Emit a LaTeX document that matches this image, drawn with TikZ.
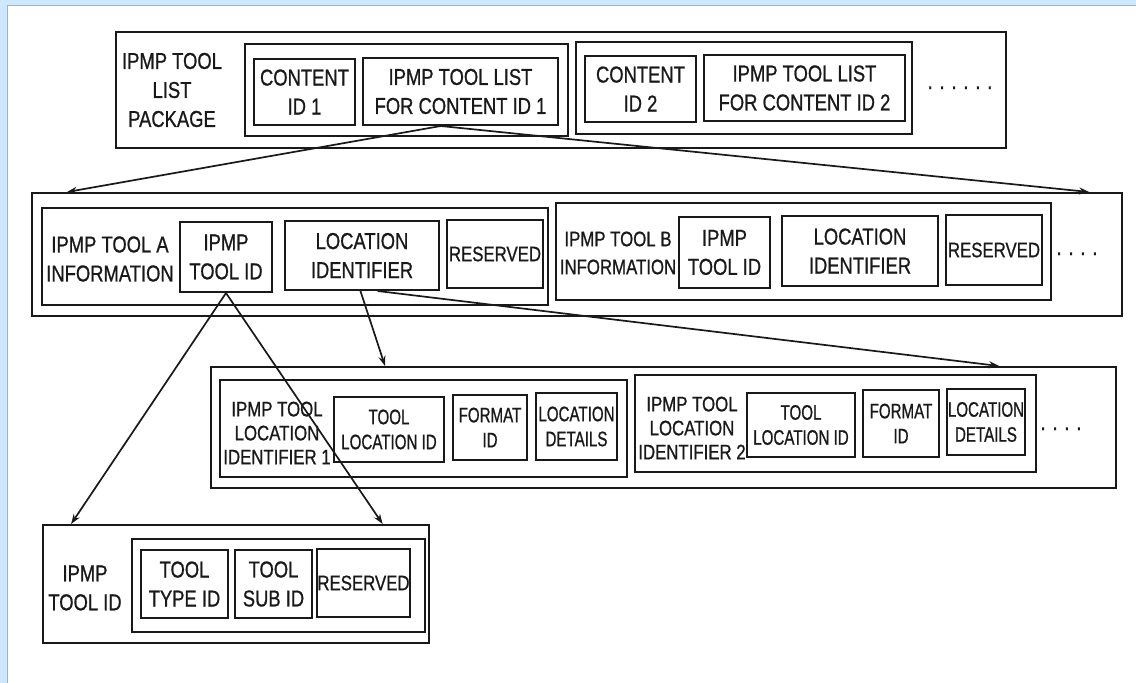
\documentclass[tikz,border=0pt]{standalone}
\usepackage{fontspec}
\usetikzlibrary{arrows.meta,calc}
\newfontfamily\cond[FakeStretch=0.8,FakeBold=0.8]{Liberation Sans}
\newfontfamily\condt[FakeStretch=0.72,FakeBold=0.8]{Liberation Sans}
\definecolor{bluebg}{RGB}{207,231,252}
\definecolor{blueln}{RGB}{150,182,212}
\definecolor{ink}{RGB}{25,25,25}
\tikzset{
  box/.style={draw=ink,line width=2pt,inner sep=0pt,align=center,text=ink,
    font={\cond\fontsize{23}{29}\selectfont}},
  lbl/.style={inner sep=0pt,align=center,text=ink,font={\cond\fontsize{23}{29}\selectfont}},
  midfont/.style={font={\cond\fontsize{21}{25}\selectfont}},
  tightfont/.style={font={\condt\fontsize{21}{25}\selectfont}},
  dots/.style={inner sep=0pt,anchor=base,text=ink,font={\cond\fontsize{23}{26}\selectfont}},
  arr/.style={draw=ink,line width=1.7pt,-{Stealth[length=10pt,width=7pt]}}
}
\newcommand\mybox[7][]{%
  \pgfmathsetmacro\bw{#5-#3}\pgfmathsetmacro\bh{#6-#4}%
  \pgfmathsetmacro\cx{(#3+#5)/2}\pgfmathsetmacro\cy{(#4+#6)/2}%
  \node[box,#1,minimum width=\bw pt,minimum height=\bh pt] (#2) at (\cx,\cy) {#7};}
\begin{document}
\begin{tikzpicture}[x=1pt,y=-1pt]
\useasboundingbox (0,0) rectangle (1136,683);
\fill[white] (0,0) rectangle (1136,683);
\fill[bluebg] (0,0) rectangle (1136,5);
\fill[bluebg] (0,0) rectangle (7,683);
\draw[blueln,line width=0.8pt] (1136,5) -- (7,5) -- (7,683);
% Row 1
\mybox{r1}{116}{32}{1006}{148}{}
\node[lbl] (lab1) at (172,90) {IPMP TOOL\\LIST\\PACKAGE};
\mybox{g1}{245}{44}{568}{136}{}
\mybox{cid1}{254}{59}{355}{125}{CONTENT\\ID 1}
\mybox{tl1}{363}{58}{558}{125}{IPMP TOOL LIST\\FOR CONTENT ID 1}
\mybox{g2}{576}{42}{912}{134}{}
\mybox{cid2}{585}{56}{696}{122}{CONTENT\\ID 2}
\mybox{tl2}{704}{55}{905}{121}{IPMP TOOL LIST\\FOR CONTENT ID 2}
\node[dots] (d1) at (960,89) {. . . . . .};
% Row 2
\mybox{r2}{32}{193}{1122}{316}{}
\mybox{gA}{42}{208}{548}{305}{}
\node[lbl] (labA) at (110,259) {IPMP TOOL A\\INFORMATION};
\mybox{idA}{180}{222}{272}{292}{IPMP\\TOOL ID}
\mybox{locA}{285}{221}{439}{290}{LOCATION\\IDENTIFIER}
\mybox[midfont]{resA}{447}{220}{543}{288}{RESERVED}
\mybox{gB}{556}{203}{1051}{300}{}
\node[lbl,font={\cond\fontsize{21}{28}\selectfont}] (labB) at (618,253) {IPMP TOOL B\\INFORMATION};
\mybox{idB}{679}{217}{770}{288}{IPMP\\TOOL ID}
\mybox{locB}{782}{216}{938}{286}{LOCATION\\IDENTIFIER}
\mybox[midfont]{resB}{946}{215}{1042}{285}{RESERVED}
\node[dots] (d2) at (1077,255) {. . . .};
% Row 3
\mybox{r3}{211}{367}{1116}{488}{}
\mybox{gL1}{220}{380}{627}{477}{}
\node[lbl,font={\cond\fontsize{21}{24}\selectfont}] (labL1) at (277,433) {IPMP TOOL\\LOCATION\\IDENTIFIER 1};
\mybox[tightfont]{tlid1}{334}{397}{444}{462}{TOOL\\LOCATION ID}
\mybox[tightfont]{fmt1}{453}{395}{527}{460}{FORMAT\\ID}
\mybox[tightfont]{det1}{536}{393}{617}{460}{LOCATION\\DETAILS}
\mybox{gL2}{635}{375}{1036}{472}{}
\node[lbl,font={\cond\fontsize{21}{24}\selectfont}] (labL2) at (692,428) {IPMP TOOL\\LOCATION\\IDENTIFIER 2};
\mybox[tightfont]{tlid2}{747}{393}{855}{457}{TOOL\\LOCATION ID}
\mybox[tightfont]{fmt2}{863}{390}{939}{457}{FORMAT\\ID}
\mybox[tightfont]{det2}{947}{389}{1025}{455}{LOCATION\\DETAILS}
\node[dots] (d3) at (1061,430) {. . . .};
% Row 4
\mybox{r4}{43}{525}{429}{643}{}
\node[lbl] (lab4) at (85,588) {IPMP\\TOOL ID};
\mybox{g4}{132}{539}{425}{632}{}
\mybox{tt}{141}{550}{228}{618}{TOOL\\TYPE ID}
\mybox{ts}{235}{550}{312}{618}{TOOL\\SUB ID}
\mybox[midfont]{res4}{318}{549}{409}{617}{RESERVED}
% Arrows
\draw[arr] ($(tl1.south west)!0.4!(tl1.south east)$) -- ($(r2.north west)!0.033!(r2.north east)$);
\draw[arr] ($(tl1.south west)!0.4!(tl1.south east)$) -- ($(r2.north west)!0.969!(r2.north east)$);
\draw[arr] (idA.south) -- ($(r4.north west)!0.075!(r4.north east)$);
\draw[arr] (idA.south) -- ($(r4.north west)!0.878!(r4.north east)$);
\draw[arr] ($(locA.south west)!0.49!(locA.south east)$) -- ($(r3.north west)!0.193!(r3.north east)$);
\draw[arr] ($(locA.south west)!0.6!(locA.south east)$) -- ($(r3.north west)!0.87!(r3.north east)$);
\end{tikzpicture}
\end{document}
